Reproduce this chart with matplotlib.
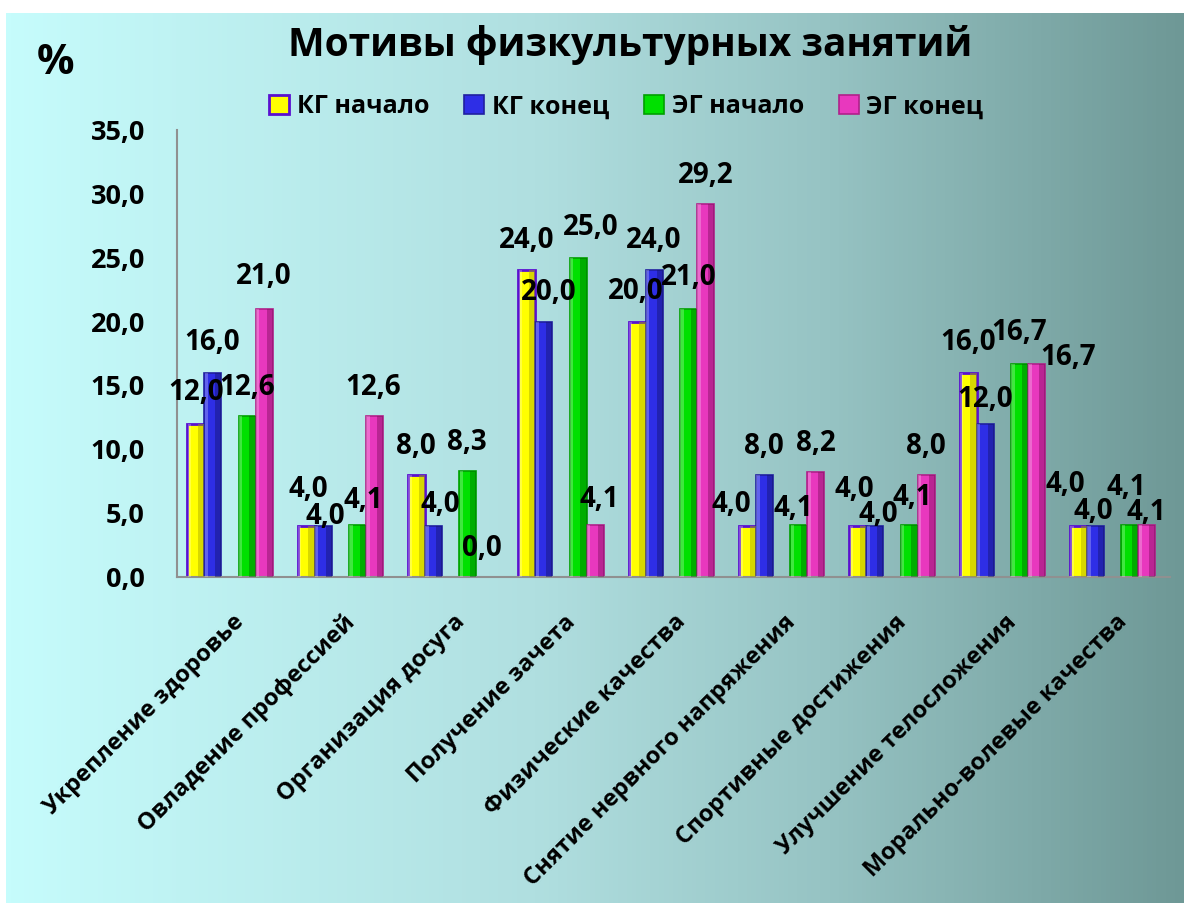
import matplotlib.pyplot as plt
import matplotlib.transforms as mtransforms
import numpy as np
from matplotlib.colors import LinearSegmentedColormap

plt.rcParams['font.family'] = ['Open Sans', 'DejaVu Sans']

# Data
categories = ["Укрепление здоровье", "Овладение профессией", "Организация досуга",
              "Получение зачета", "Физические качества", "Снятие нервного напряжения",
              "Спортивные достижения", "Улучшение телосложения", "Морально-волевые качества"]
kg_start = [12.0, 4.0, 8.0, 24.0, 20.0, 4.0, 4.0, 16.0, 4.0]
kg_end = [16.0, 4.0, 4.0, 20.0, 24.0, 8.0, 4.0, 12.0, 4.0]
eg_start = [12.6, 4.1, 8.3, 25.0, 21.0, 4.1, 4.1, 16.7, 4.1]
eg_end = [21.0, 12.6, 0.0, 4.1, 29.2, 8.2, 8.0, 16.7, 4.1]
series_names = ["КГ начало", "КГ конец", "ЭГ начало", "ЭГ конец"]
yticks = [0, 5, 10, 15, 20, 25, 30, 35]

series = [kg_start, kg_end, eg_start, eg_end]
colors = ["#FFFF00", "#2E2EE6", "#00E000", "#E838BE"]
dark = ["#A8A800", "#141470", "#007000", "#801060"]
edges = ["#5A10D0", "#2020A0", "#00A000", "#B0208A"]
offsets = [-2, -1, 1, 2]
width = 0.155

# label placement (pixels from the bar top), as the labels sit in the original
label_dx = [[0, 2, -1, 0, -1, -16, -3, 0, -13],
            [-1, 2, 7, 5, -1, -1, 3, 0, -2],
            [0, 6, -1, 13, 0, -5, 3, 0, -3],
            [0, -1, -3, 4, 0, 0, 0, 32, -1]]
label_dy = [[31, 36, 28, 30, 30, 21, 36, 30, 41],
            [30, 9, 21, 29, 30, 28, 11, 24, 14],
            [29, 24, 28, 30, 31, 16, 27, 31, 37],
            [32, 29, 29, 25, 29, 29, 28, 6, 12]]

fig = plt.figure(figsize=(11.84, 9.06), dpi=100)

# gradient background panel
bg = fig.add_axes([6 / 1184, 3 / 906, 1 - 6 / 1184, 1 - 16 / 906], zorder=0)
cmap = LinearSegmentedColormap.from_list(
    "bg", [(0, "#C6FCFC"), (0.45, "#B0DFE0"), (0.7, "#96C3C3"), (1, "#6E9896")])
bg.imshow(np.linspace(0, 1, 256)[None, :], aspect="auto", cmap=cmap, extent=[0, 1, 0, 1])
bg.axis("off")

ax = fig.add_axes([177 / 1184, 1 - 577 / 906, (1170 - 177) / 1184, (577 - 130) / 906], zorder=1)
ax.patch.set_alpha(0)

x = np.arange(len(categories)) + 0.5
for i, vals in enumerate(series):
    xs = x + offsets[i] * width - 0.02
    ax.bar(xs, vals, width, color=colors[i], edgecolor=edges[i],
           linewidth=2 if i == 0 else 1.2, label=series_names[i], zorder=2)
    # bevel shading
    ax.bar(xs + width * 0.32, vals, width * 0.36, color=dark[i], alpha=0.45,
           linewidth=0, zorder=3)
    ax.bar(xs - width * 0.38, vals, width * 0.2, color="white", alpha=0.25,
           linewidth=0, zorder=3)
    for j, (xv, v) in enumerate(zip(xs, vals)):
        ax.annotate(f"{v:.1f}".replace(".", ","), xy=(xv, v),
                    xytext=(label_dx[i][j], label_dy[i][j]), textcoords="offset pixels",
                    ha="center", va="center", fontsize=20, fontweight="bold",
                    color="black", zorder=5)

ax.set_xlim(0, len(categories))
ax.set_ylim(0, 35)
ax.set_yticks(yticks)
ax.set_yticklabels([f"{t:.1f}".replace(".", ",") for t in yticks],
                   fontsize=19.5, fontweight="bold")
ax.set_xticks(x)
ax.set_xticklabels(categories, rotation=45, ha="right", rotation_mode="anchor",
                   fontsize=17, fontweight="bold")
ax.tick_params(axis="y", length=0, pad=23)
ax.tick_params(axis="x", length=0, pad=24)
shift = mtransforms.ScaledTranslation(0.0, 0, fig.dpi_scale_trans)
for lab in ax.get_xticklabels():
    lab.set_transform(lab.get_transform() + shift)
for s in ["top", "right"]:
    ax.spines[s].set_visible(False)
ax.spines["left"].set_color("#909090")
ax.spines["bottom"].set_color("#909090")
ax.spines["left"].set_linewidth(1.5)
ax.spines["bottom"].set_linewidth(1.5)

fig.text(0.532, 0.95, "Мотивы физкультурных занятий", ha="center", va="center",
         fontsize=28, fontweight="bold")
fig.text(0.047, 0.93, "%", ha="center", va="center", fontsize=30, fontweight="bold")

leg = ax.legend(loc="center", bbox_to_anchor=(0.529, 0.882), bbox_transform=fig.transFigure,
                ncol=4, frameon=False, prop={"size": 18, "weight": "bold"},
                handlelength=0.8, handleheight=0.8, columnspacing=1.4, handletextpad=0.3)

fig.savefig("out.png", dpi=100)
